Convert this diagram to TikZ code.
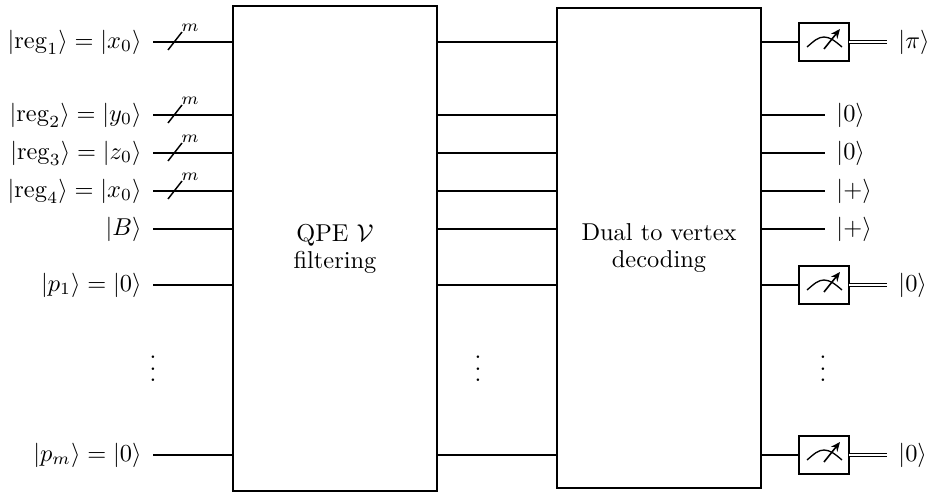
\documentclass[tikz,border=0pt]{standalone}
\usetikzlibrary{arrows.meta,calc}
\begin{document}
\begin{tikzpicture}[x=0.75pt,y=-0.75pt,
  textscale/.style={scale=1.83,font=\fontsize{10}{11}\selectfont},
  wire/.style={line width=1.1pt},
  gatebox/.style={textscale,draw,line width=1.5pt,rectangle,inner sep=0pt,outer sep=0pt,minimum width=83.6pt,align=center},
  meterbox/.style={draw,line width=1.2pt,rectangle,inner sep=0pt,outer sep=0pt,minimum width=37.5pt,minimum height=28.5pt},
  lab/.style={textscale,anchor=east,inner sep=0pt},
  outlab/.style={textscale,anchor=west,inner sep=0pt},
  dbl/.style={double,double distance=1pt,line width=0.85pt},
  dotsnode/.style={textscale,inner sep=0pt},
  meter/.pic={
    \draw[line width=1pt] (-17,5) .. controls (-10,-1) and (-6,-5) .. (0,-5) .. controls (6,-5) and (11,-1) .. (18,5);
    \draw[line width=1.2pt,-{Stealth[length=7pt,width=6pt]}] (0,7) -- (16,-13);
  }]
\newcommand{\vdotsw}{\vbox{\baselineskip=4.6pt\lineskiplimit=0pt\hbox{.}\hbox{.}\hbox{.}\kern1pt}}
\useasboundingbox (0,0) rectangle (928,492);
\node[gatebox,minimum height=198.77pt] (g1) at (335,248.5) {QPE $\mathcal{V}$\\filtering};
\node[gatebox,minimum height=196.72pt] (g2) at (659,248) {Dual to vertex\\decoding};
\foreach \n/\y in {1/42,2/115,3/153,4/191,5/229,6/285,7/455}{
  \coordinate (in\n) at (153,\y);
  \coordinate (out\n) at (825,\y);
  \draw[wire] (in\n) -- (in\n -| g1.west);
  \draw[wire] (in\n -| g1.east) -- (in\n -| g2.west);
}
\node[lab] (l1) at (142,42) {$|\mathrm{reg}_1\rangle=|x_0\rangle$};
\node[lab] (l2) at (142,115) {$|\mathrm{reg}_2\rangle=|y_0\rangle$};
\node[lab] (l3) at (142,153) {$|\mathrm{reg}_3\rangle=|z_0\rangle$};
\node[lab] (l4) at (142,191) {$|\mathrm{reg}_4\rangle=|x_0\rangle$};
\node[lab] (l5) at (142,229) {$|B\rangle$};
\node[lab] (l6) at (142,285) {$|p_1\rangle=|0\rangle$};
\node[lab] (l7) at (142,455) {$|p_m\rangle=|0\rangle$};
\foreach \n in {1,2,3,4}{
  \coordinate (sa\n) at ($(in\n)+(15,8)$);
  \coordinate (sb\n) at ($(in\n)+(29,-10)$);
  \draw[wire] (sa\n) -- (sb\n);
  \node[textscale,inner sep=0pt] (m\n) at ($(in\n)+(37,-14)$) {$\scriptstyle m$};
}
\foreach \n/\y in {1/42,6/285,7/455}{
  \node[meterbox] (q\n) at (824,\y) {};
  \pic at (q\n.center) {meter};
  \draw[wire] (in\n -| g2.east) -- (q\n.west);
  \coordinate (e\n) at (887,\y);
  \draw[dbl] (q\n.east) -- (e\n);
}
\foreach \n in {2,3,4,5}{
  \draw[wire] (in\n -| g2.east) -- (out\n);
}
\node[outlab] (o1) at (898,42) {$|\pi\rangle$};
\node[outlab] (o2) at (836,115) {$|0\rangle$};
\node[outlab] (o3) at (836,153) {$|0\rangle$};
\node[outlab] (o4) at (836,191) {$|{+}\rangle$};
\node[outlab] (o5) at (836,229) {$|{+}\rangle$};
\node[outlab] (o6) at (898,285) {$|0\rangle$};
\node[outlab] (o7) at (898,455) {$|0\rangle$};
\node[dotsnode] (d1) at (153,370) {\vdotsw};
\node[dotsnode] (d2) at (478,370) {\vdotsw};
\node[dotsnode] (d3) at (823,370) {\vdotsw};
\end{tikzpicture}
\end{document}
